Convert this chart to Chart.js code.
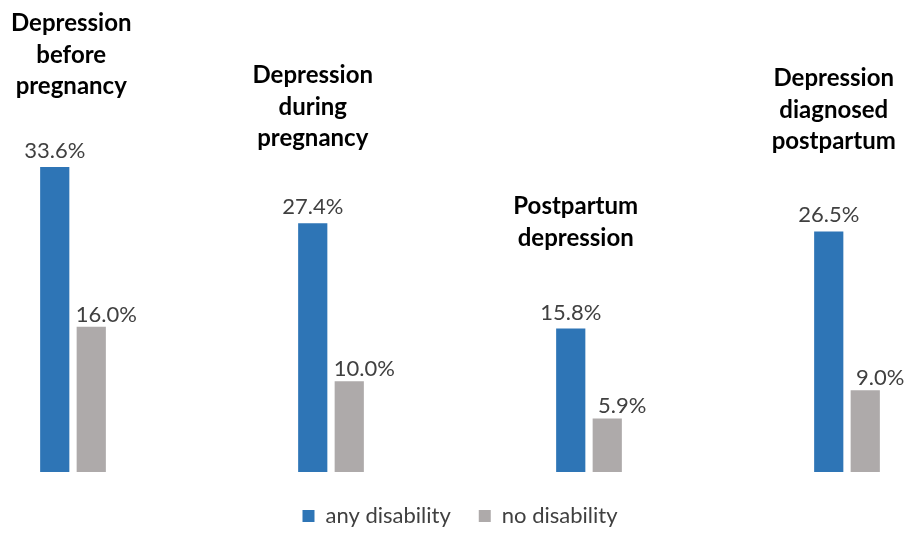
<!DOCTYPE html>
<html>
<head>
<meta charset="utf-8">
<script src="https://cdn.jsdelivr.net/npm/chart.js@4/dist/chart.umd.min.js"></script>
<style>
  html, body { margin: 0; padding: 0; background: #ffffff; overflow: hidden; }
  body { width: 912px; height: 537px; position: relative; }
  /* The plot is wider than the page so the outer groups sit near the edges */
  #wrap { position: absolute; left: -56px; top: 0; width: 1040px; height: 537px; }
</style>
</head>
<body>
<div id="wrap"><canvas id="chart"></canvas></div>
<script>
// Category titles (one entry per line of each title)
const categories = [
  ["Depression", "before", "pregnancy"],
  ["Depression", "during", "pregnancy"],
  ["Postpartum", "depression"],
  ["Depression", "diagnosed", "postpartum"]
];
const seriesNames = ["any disability", "no disability"];
const anyDisability = [33.6, 27.4, 15.8, 26.5];
const noDisability = [16.0, 10.0, 5.9, 9.0];

const PAGE_SHIFT = 56;      // canvas starts this far left of the page
const LABEL_FONT = "22px Lato";
const TITLE_FONT = "bold 24px Lato";

// Percent labels above each bar (per-series horizontal nudge and lift)
const valueLabels = {
  id: "valueLabels",
  afterDatasetsDraw(chart, args, opts) {
    const ctx = chart.ctx;
    ctx.save();
    ctx.font = LABEL_FONT;
    ctx.fillStyle = "#404040";
    ctx.textAlign = "center";
    ctx.textBaseline = "alphabetic";
    chart.data.datasets.forEach((ds, di) => {
      chart.getDatasetMeta(di).data.forEach((bar, i) => {
        ctx.fillText(ds.data[i].toFixed(1) + "%", bar.x + opts.dx[di], bar.y - opts.lift[di]);
      });
    });
    ctx.restore();
  }
};

// Bold multi-line titles floating above each group
const groupTitles = {
  id: "groupTitles",
  afterDatasetsDraw(chart, args, opts) {
    const ctx = chart.ctx;
    const meta = chart.getDatasetMeta(0);
    ctx.save();
    ctx.font = TITLE_FONT;
    ctx.fillStyle = "#000000";
    ctx.textAlign = "center";
    ctx.textBaseline = "alphabetic";
    categories.forEach((lines, i) => {
      const bar = meta.data[i];
      const widest = Math.max(...lines.map(l => ctx.measureText(l).width));
      let cx = bar.x + opts.shift[i];
      cx = Math.max(cx, PAGE_SHIFT + opts.minLeft + widest / 2);
      const lastBase = bar.y - 9 - opts.gap[i];
      lines.forEach((line, k) => {
        const y = lastBase - (lines.length - 1 - k) * opts.lineHeight;
        ctx.fillText(line, cx, y);
      });
    });
    ctx.restore();
  }
};

new Chart(document.getElementById("chart"), {
  type: "bar",
  data: {
    labels: categories,
    datasets: [
      {
        label: seriesNames[0],
        data: anyDisability,
        backgroundColor: "#2E75B6",
        categoryPercentage: 0.283,
        barPercentage: 0.8
      },
      {
        label: seriesNames[1],
        data: noDisability,
        backgroundColor: "#AEAAAA",
        categoryPercentage: 0.283,
        barPercentage: 0.8
      }
    ]
  },
  options: {
    responsive: true,
    maintainAspectRatio: false,
    animation: false,
    layout: { padding: { left: 0, right: 8, top: 0, bottom: 0 } },
    scales: {
      x: { display: false },
      y: { display: false, min: -0.55, max: 52 }
    },
    plugins: {
      tooltip: { enabled: false },
      legend: {
        position: "bottom",
        labels: {
          boxWidth: 12,
          boxHeight: 12,
          padding: 28,
          color: "#404040",
          font: { family: "Lato", size: 22 }
        }
      },
      valueLabels: {
        dx: [0, 15],
        lift: [9, 5]
      },
      groupTitles: {
        shift: [0, 0, 5, 5],
        gap: [64, 68, 74, 73],
        lineHeight: 31.5,
        minLeft: 11
      }
    }
  },
  plugins: [valueLabels, groupTitles]
});
</script>
</body>
</html>
